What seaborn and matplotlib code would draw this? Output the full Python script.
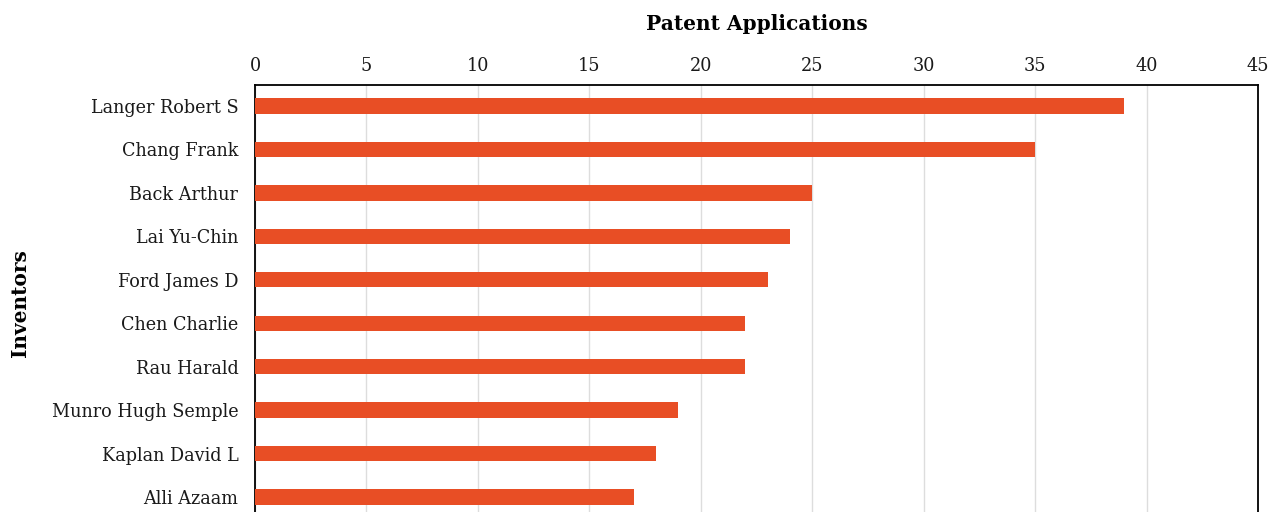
import matplotlib
matplotlib.use("Agg")
import matplotlib.pyplot as plt
import seaborn as sns
import pandas as pd

inventors = ["Langer Robert S", "Chang Frank", "Back Arthur", "Lai Yu-Chin",
             "Ford James D", "Chen Charlie", "Rau Harald", "Munro Hugh Semple",
             "Kaplan David L", "Alli Azaam"]
applications = [39, 35, 25, 24, 23, 22, 22, 19, 18, 17]
x_ticks = [0, 5, 10, 15, 20, 25, 30, 35, 40, 45]

df = pd.DataFrame({"Inventors": inventors, "Patent Applications": applications})

sns.set_theme(style="white")
plt.rcParams["font.family"] = ["DejaVu Serif"]

fig = plt.figure(figsize=(12.71, 5.12), dpi=100)
W, H = 1271, 512
left, right, top, bottom = 255, 1258, 85, 518
ax = fig.add_axes([left / W, (H - bottom) / H, (right - left) / W, (bottom - top) / H])

sns.barplot(data=df, x="Patent Applications", y="Inventors", orient="h",
            color="#E84E25", width=0.35, ax=ax, zorder=3, saturation=1,
            edgecolor="none")

ax.set_xlim(0, 45)
ax.set_ylim(9.484, -0.484)
ax.set_xticks(x_ticks)
ax.xaxis.tick_top()
ax.xaxis.set_label_position("top")
ax.tick_params(axis="both", length=0, labelsize=12.7, colors="#1a1a1a")
ax.tick_params(axis="x", pad=7)
ax.tick_params(axis="y", pad=12)
ax.grid(axis="x", color="#DDDDDD", linewidth=1.0, zorder=0)
ax.grid(axis="y", visible=False)
for s in ["left", "top", "right"]:
    ax.spines[s].set_visible(True)
    ax.spines[s].set_color("black")
    ax.spines[s].set_linewidth(1.3)

ax.set_xlabel("Patent Applications", fontsize=14.5, fontweight="bold",
              labelpad=20, color="black")
ax.set_ylabel("Inventors", fontsize=14.5, fontweight="bold", color="black")
ax.yaxis.set_label_coords(-0.224, 0.497)

fig.savefig("out.png", dpi=100)
